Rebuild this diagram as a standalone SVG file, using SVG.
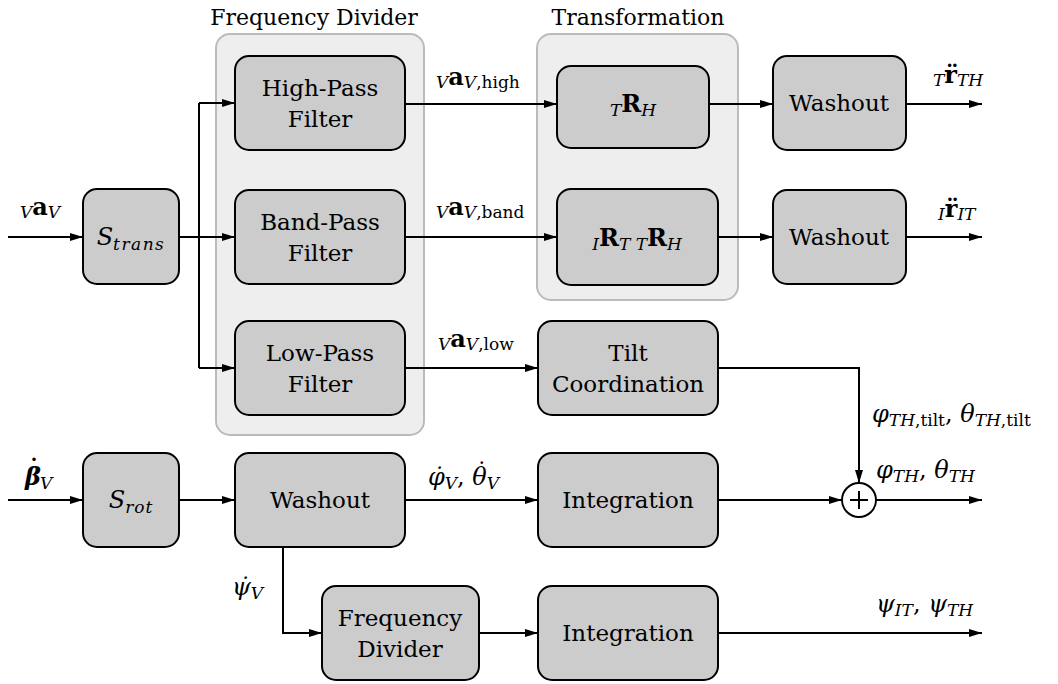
<svg xmlns="http://www.w3.org/2000/svg" width="1058" height="684" viewBox="0 0 1058 684">
<style>
.grp{fill:#eeeeee;stroke:#bbbbbb;stroke-width:2}
.box{fill:#cccccc;stroke:#000;stroke-width:2}
.t{font-family:"DejaVu Serif",serif;font-size:23px;fill:#000;text-anchor:middle}
.ttl{font-family:"DejaVu Serif",serif;font-size:22px;fill:#000;text-anchor:middle}
.m{font-family:"DejaVu Serif",serif;font-size:24px;fill:#000}
.i{font-style:italic}
.b{font-weight:bold}
.s{font-size:17px}
.ln{fill:none;stroke:#000;stroke-width:2}
.arr{marker-end:url(#ah)}
</style>
<defs>
<marker id="ah" markerUnits="userSpaceOnUse" markerWidth="14" markerHeight="10" refX="13" refY="5" orient="auto">
<path d="M0,1 L13,5 L0,9 z" fill="#000"/>
</marker>
</defs>

<g id="group-frequency-divider">
<rect class="grp" x="216" y="34" width="208" height="401" rx="14"/>
<text class="ttl" x="314" y="25">Frequency Divider</text>
</g>
<g id="group-transformation">
<rect class="grp" x="537" y="34" width="201" height="266" rx="14"/>
<text class="ttl" x="638" y="25">Transformation</text>
</g>

<g id="s-trans">
<rect class="box" x="83" y="189" width="96" height="95" rx="14"/>
<text class="m i" x="131" y="245" text-anchor="middle">S<tspan class="s" dy="5" letter-spacing="1.5">trans</tspan></text>
</g>
<g id="high-pass">
<rect class="box" x="235" y="56" width="170" height="94" rx="14"/>
<text class="t" x="320" y="96">High-Pass</text>
<text class="t" x="320" y="127">Filter</text>
</g>
<g id="band-pass">
<rect class="box" x="235" y="190" width="170" height="94" rx="14"/>
<text class="t" x="320" y="230">Band-Pass</text>
<text class="t" x="320" y="261">Filter</text>
</g>
<g id="low-pass">
<rect class="box" x="235" y="321" width="170" height="94" rx="14"/>
<text class="t" x="320" y="361">Low-Pass</text>
<text class="t" x="320" y="392">Filter</text>
</g>
<g id="t-r-h">
<rect class="box" x="557" y="66" width="152" height="82" rx="14"/>
<text class="m" x="633" y="112" text-anchor="middle"><tspan class="s i" dy="4">T</tspan><tspan class="b" dy="-4">R</tspan><tspan class="s i" dy="4">H</tspan></text>
</g>
<g id="i-r-t-t-r-h">
<rect class="box" x="557" y="189" width="161" height="96" rx="14"/>
<text class="m" x="637" y="246" text-anchor="middle"><tspan class="s i" dy="4">I</tspan><tspan class="b" dy="-4">R</tspan><tspan class="s i" dy="4">T</tspan><tspan class="s i"> T</tspan><tspan class="b" dy="-4">R</tspan><tspan class="s i" dy="4">H</tspan></text>
</g>
<g id="washout-1">
<rect class="box" x="773" y="56" width="133" height="94" rx="14"/>
<text class="t" x="839" y="111">Washout</text>
</g>
<g id="washout-2">
<rect class="box" x="773" y="190" width="133" height="94" rx="14"/>
<text class="t" x="839" y="245">Washout</text>
</g>
<g id="tilt">
<rect class="box" x="538" y="321" width="180" height="94" rx="14"/>
<text class="t" x="628" y="361">Tilt</text>
<text class="t" x="628" y="392">Coordination</text>
</g>
<g id="s-rot">
<rect class="box" x="83" y="453" width="96" height="94" rx="14"/>
<text class="m i" x="131" y="508" text-anchor="middle">S<tspan class="s" dy="5" letter-spacing="1">rot</tspan></text>
</g>
<g id="washout-rot">
<rect class="box" x="235" y="453" width="170" height="94" rx="14"/>
<text class="t" x="320" y="508">Washout</text>
</g>
<g id="integration-1">
<rect class="box" x="538" y="453" width="180" height="94" rx="14"/>
<text class="t" x="628" y="508">Integration</text>
</g>
<g id="sum">
<circle cx="859" cy="500" r="17" fill="#fff" stroke="#000" stroke-width="2"/>
<path class="ln" d="M850,500 H868 M859,491 V509"/>
</g>
<g id="frequency-divider-2">
<rect class="box" x="322" y="586" width="157" height="94" rx="14"/>
<text class="t" x="400" y="626">Frequency</text>
<text class="t" x="400" y="657">Divider</text>
</g>
<g id="integration-2">
<rect class="box" x="538" y="586" width="180" height="94" rx="14"/>
<text class="t" x="628" y="641">Integration</text>
</g>

<g id="connectors">
<path class="ln arr" d="M8,237 H83"/>
<path class="ln" d="M179,237 H199 M199,103 V368"/>
<path class="ln arr" d="M199,103 H235"/>
<path class="ln arr" d="M199,237 H235"/>
<path class="ln arr" d="M199,368 H235"/>
<path class="ln arr" d="M405,104 H557"/>
<path class="ln arr" d="M405,237 H557"/>
<path class="ln arr" d="M405,368 H538"/>
<path class="ln arr" d="M709,104 H773"/>
<path class="ln arr" d="M718,237 H773"/>
<path class="ln arr" d="M906,104 H982"/>
<path class="ln arr" d="M906,237 H982"/>
<path class="ln arr" d="M718,368 H859 V483"/>
<path class="ln arr" d="M8,500 H83"/>
<path class="ln arr" d="M179,500 H235"/>
<path class="ln arr" d="M405,500 H538"/>
<path class="ln arr" d="M718,500 H842"/>
<path class="ln arr" d="M876,500 H982"/>
<path class="ln arr" d="M283,547 V633 H322"/>
<path class="ln arr" d="M479,633 H538"/>
<path class="ln arr" d="M718,633 H982"/>
</g>

<g id="labels">
<text class="m" x="20" y="215"><tspan class="s i" dy="3">V</tspan><tspan class="b" dy="-3">a</tspan><tspan class="s i" dy="3">V</tspan></text>
<text class="m" x="436" y="85"><tspan class="s i" dy="3">V</tspan><tspan class="b" dy="-3">a</tspan><tspan class="s" dy="3"><tspan class="i">V</tspan>,high</tspan></text>
<text class="m" x="436" y="215"><tspan class="s i" dy="3">V</tspan><tspan class="b" dy="-3">a</tspan><tspan class="s" dy="3"><tspan class="i">V</tspan>,band</tspan></text>
<text class="m" x="438" y="347"><tspan class="s i" dy="3">V</tspan><tspan class="b" dy="-3">a</tspan><tspan class="s" dy="3"><tspan class="i">V</tspan>,low</tspan></text>
<text class="m" x="933" y="83"><tspan class="s i" dy="3">T</tspan><tspan class="b" dy="-3">r̈</tspan><tspan class="s i" dy="3">TH</tspan></text>
<text class="m" x="938" y="217"><tspan class="s i" dy="3">I</tspan><tspan class="b" dy="-3">r̈</tspan><tspan class="s i" dy="3">IT</tspan></text>
<text class="m" x="872" y="422"><tspan class="i">φ</tspan><tspan class="s" dy="4"><tspan class="i">TH</tspan>,tilt</tspan><tspan dy="-4">, </tspan><tspan class="i">θ</tspan><tspan class="s" dy="4"><tspan class="i">TH</tspan>,tilt</tspan></text>
<text class="m" x="876" y="478"><tspan class="i">φ</tspan><tspan class="s i" dy="4">TH</tspan><tspan dy="-4">, </tspan><tspan class="i">θ</tspan><tspan class="s i" dy="4">TH</tspan></text>
<text class="m" x="25" y="485"><tspan class="b i">β</tspan><tspan class="b" dx="-13" dy="-8">˙</tspan><tspan class="s i" dy="12">V</tspan></text>
<text class="m" x="428" y="485"><tspan class="i">φ̇</tspan><tspan class="s i" dy="4">V</tspan><tspan dy="-4">, </tspan><tspan class="i">θ</tspan><tspan dx="-11" dy="-5">˙</tspan><tspan class="s i" dx="-1" dy="9">V</tspan></text>
<text class="m" x="232" y="595"><tspan class="i">ψ̇</tspan><tspan class="s i" dy="4">V</tspan></text>
<text class="m" x="876" y="612"><tspan class="i">ψ</tspan><tspan class="s i" dy="4">IT</tspan><tspan dy="-4">, </tspan><tspan class="i">ψ</tspan><tspan class="s i" dy="4">TH</tspan></text>
</g>
</svg>
